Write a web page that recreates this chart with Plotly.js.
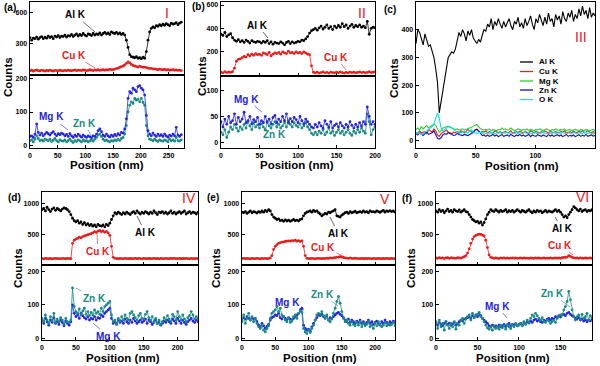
<!DOCTYPE html>
<html><head><meta charset="utf-8">
<script src="https://cdn.plot.ly/plotly-3.0.1.min.js"></script>
<style>html,body{margin:0;padding:0;background:#fff}#chart{width:600px;height:366px}</style>
</head><body><div id="chart"></div>
<script>
// ---------- Panel (a) : x = 0..273 nm, step 3 ----------
const xA_start = 0, xA_step = 3;
const alA = [355,330,350,345,360,340,355,365,345,360,350,370,355,365,345,370,360,375,355,370,365,380,360,375,370,385,365,380,390,370,385,375,395,380,370,390,385,375,395,380,390,385,400,380,395,405,390,400,385,410,400,395,405,390,400,385,395,380,330,260,190,170,165,160,170,155,160,150,165,155,220,330,410,445,460,450,470,465,480,470,485,475,490,480,470,495,485,490,500,480,495,505];
const cuA = [35,40,30,38,42,35,32,40,36,30,38,34,40,35,30,38,36,33,40,35,32,38,35,40,36,34,38,42,35,40,38,36,42,40,35,38,44,40,36,42,40,45,38,42,46,40,44,42,48,45,46,50,55,60,68,75,80,90,105,120,110,95,85,80,75,70,78,72,68,70,65,60,55,58,50,52,48,45,50,46,44,48,42,45,40,43,46,40,42,38,40,36];
const mgA = [28,30,25,35,65,40,32,38,30,35,40,36,32,38,42,35,30,36,33,38,35,30,34,28,36,30,25,32,28,35,30,26,32,28,25,30,27,24,30,28,35,45,50,42,32,28,35,30,26,32,28,34,30,36,32,40,38,50,80,140,160,155,170,165,160,175,178,170,165,150,90,45,35,30,38,32,28,35,30,33,28,35,30,26,32,29,35,30,55,32,28,33];
const znA = [15,18,12,20,30,22,15,18,14,20,18,15,20,13,17,22,16,12,18,15,14,18,12,16,20,14,10,16,13,18,15,12,18,14,16,12,15,18,14,20,25,32,35,28,20,15,18,14,12,16,14,18,15,20,16,22,25,35,60,100,120,130,125,140,135,138,130,140,128,120,60,30,20,18,15,20,16,13,18,15,14,18,16,12,20,15,18,14,25,16,14,18];

// ---------- Panel (b) : x = 0..200 nm, step 2.5 ----------
const xB_start = 0, xB_step = 2.5;
const alB = [350,340,365,330,345,355,320,300,290,305,285,295,280,300,290,275,295,285,280,290,285,275,290,280,295,270,285,265,280,275,270,285,275,260,280,290,270,285,275,280,290,285,300,295,310,330,360,380,390,400,385,405,420,395,410,430,400,415,390,420,405,425,410,440,415,430,400,420,435,410,425,415,430,410,420,405,460,350,400,410,405];
const cuB = [25,20,30,22,28,24,30,60,120,135,140,150,160,155,175,165,180,170,185,175,180,170,190,185,175,195,165,180,190,185,195,180,200,190,185,205,190,195,185,200,190,195,185,200,190,180,175,80,25,20,25,18,22,28,20,24,18,26,22,20,25,20,28,22,18,24,20,26,22,25,20,24,28,22,26,20,24,30,22,25,28];
const mgB = [40,30,45,35,50,38,42,55,35,48,40,45,58,38,42,50,36,44,40,48,35,42,38,50,40,45,36,48,52,38,45,40,50,42,55,38,46,40,48,44,38,50,42,36,45,40,35,30,28,35,30,38,32,28,42,35,30,40,28,33,36,30,38,32,28,35,30,40,33,28,35,30,38,32,40,35,68,50,35,40,35];
const znB = [20,15,25,10,20,30,25,35,28,22,30,25,35,28,40,32,25,38,30,34,28,36,30,25,38,32,28,35,40,30,35,28,32,38,30,42,35,30,38,33,30,36,28,32,38,30,25,18,15,20,15,22,18,25,15,20,28,18,22,14,20,25,18,22,15,20,25,18,14,22,18,25,20,28,22,18,55,40,15,25,30];

// ---------- Panel (c) : x = 0..150 nm, step 1.5 ----------
const xC_start = 0, xC_step = 1.5;
const alC = [350,400,390,370,345,385,360,340,345,320,300,260,210,100,140,180,230,270,300,310,320,315,330,360,390,375,400,385,360,395,380,400,370,360,350,365,355,380,400,395,420,410,440,400,430,415,440,420,405,430,410,425,440,415,400,430,420,445,410,425,405,440,415,430,450,420,400,440,425,455,430,415,445,420,460,430,440,410,455,435,450,420,465,440,430,460,445,470,430,455,440,475,450,485,455,470,440,480,445,460,450];
const cuC = [30,25,35,28,30,32,25,40,35,30,42,35,20,15,25,30,35,38,30,28,25,30,28,32,26,35,30,28,33,40,35,30,28,38,42,35,28,33,30,35,28,32,30,26,35,30,28,32,27,30,33,28,30,35,27,30,32,28,34,30,28,32,30,26,35,30,28,33,30,27,32,29,35,30,27,33,30,28,32,30,28,33,30,35,27,30,32,28,34,30,29,33,30,35,28,31,36,30,28,32,30];
const mgC = [40,45,38,50,42,48,55,45,50,58,60,55,40,30,35,45,48,50,52,48,45,42,40,42,38,40,42,38,40,42,45,48,52,55,58,50,42,40,38,40,38,42,36,40,38,35,40,38,45,40,42,38,40,45,40,36,38,42,40,36,40,38,42,36,40,38,35,40,38,42,38,36,40,42,38,35,40,37,42,38,36,40,38,42,35,38,40,36,38,40,38,35,40,38,36,40,38,35,38,40,36];
const znC = [25,20,28,22,18,25,30,22,25,28,35,20,8,5,10,20,25,22,28,25,22,18,20,25,22,20,18,22,20,18,22,25,30,38,40,35,25,18,20,15,20,15,18,22,16,20,14,18,22,15,18,20,15,22,18,14,20,17,22,16,20,15,18,22,14,20,17,15,21,18,15,20,18,14,22,16,20,15,18,21,16,20,14,18,22,15,19,16,20,14,18,21,15,19,16,22,15,18,20,16,18];
const oC  = [30,25,28,22,25,30,35,40,42,50,60,85,100,80,45,35,40,45,50,50,45,40,35,30,32,28,30,33,30,28,35,40,30,28,25,28,30,26,28,25,28,25,30,27,24,28,26,30,25,28,26,30,24,28,27,25,30,26,28,24,27,30,25,28,26,24,29,27,25,28,26,30,25,27,24,28,26,29,25,27,28,25,30,26,24,28,27,25,29,26,25,28,26,24,30,27,25,28,26,24,27];

// ---------- Panel (d) : x = 0..230 nm, step 2.5 ----------
const xD_start = 0, xD_step = 2.5;
const alD = [900,920,880,940,900,870,910,930,890,920,900,880,910,930,920,900,870,820,760,720,700,720,680,700,660,690,650,670,640,660,630,650,620,660,640,630,650,620,660,640,680,740,800,850,830,860,840,820,850,830,860,840,820,850,870,840,880,850,830,860,840,870,850,830,860,840,880,850,820,860,850,870,840,860,830,850,880,840,860,830,850,870,840,860,880,830,850,870,840,860,850,830,860];
const cuD = [100,95,105,100,98,102,95,100,105,98,100,96,104,100,97,103,100,98,350,400,420,430,450,440,460,470,480,490,500,510,520,540,530,550,560,540,555,530,545,520,480,300,120,105,100,98,102,100,96,104,100,98,103,97,100,105,98,102,100,96,104,100,98,102,97,100,105,99,101,96,103,100,98,104,100,97,102,100,105,98,100,103,97,101,99,104,100,96,102,100,98,103,100];
const mgD = [55,45,60,50,40,55,48,62,45,50,42,55,48,38,52,45,40,50,100,75,65,70,60,75,68,62,58,65,55,60,58,65,55,62,60,70,65,75,80,85,90,60,45,50,42,55,48,52,45,58,50,45,55,48,60,52,45,50,55,48,52,58,45,55,50,42,48,55,45,50,40,45,52,48,55,50,45,58,52,45,60,52,45,55,48,42,50,55,60,52,48,55,50];
const znD = [60,50,70,55,45,65,52,75,48,58,50,62,55,42,60,50,48,55,150,95,80,75,88,70,82,90,72,80,68,78,70,85,75,80,72,90,80,95,100,105,110,70,50,55,45,60,52,65,55,70,60,55,75,80,70,62,55,68,75,60,58,72,80,62,55,65,50,60,45,55,42,50,62,55,68,58,50,72,65,55,80,65,55,70,58,50,62,68,80,70,58,65,60];

// ---------- Panel (e) : x = 0..230 nm, step 2.5 ----------
const xE_start = 0, xE_step = 2.5;
const alE = [860,850,870,840,860,880,850,870,860,845,870,855,880,860,890,870,900,880,820,780,760,740,750,720,730,710,735,715,730,710,725,740,720,730,715,740,750,800,840,860,870,880,860,890,870,880,850,830,800,820,840,830,860,850,870,880,900,800,790,780,810,830,850,860,840,870,850,860,875,850,860,870,855,880,860,870,850,880,865,870,860,880,870,855,875,890,860,880,870,885,870,880,860];
const cuE = [100,105,98,102,100,95,103,100,98,104,100,96,102,100,104,98,100,110,150,250,300,330,350,360,370,375,380,385,390,385,395,390,400,385,395,380,390,300,150,105,100,98,104,100,96,102,105,100,98,104,100,106,102,110,108,112,115,120,125,130,125,118,112,108,105,110,104,100,106,102,100,98,103,97,101,99,104,100,96,102,100,98,103,100,97,101,99,104,100,98,102,100,97];
const mgE = [55,62,58,65,60,55,62,58,60,50,40,35,45,38,30,36,42,55,62,65,70,68,75,62,58,65,60,55,62,58,55,60,65,70,75,85,90,40,30,25,28,22,35,45,55,62,70,68,72,65,60,68,55,62,58,65,70,75,78,72,68,62,55,50,58,48,55,50,45,52,48,55,45,50,42,48,55,45,50,42,48,52,45,40,50,45,55,48,42,50,46,52,48];
const znE = [50,70,45,60,75,55,65,50,58,45,35,30,40,25,20,30,38,60,75,80,85,95,80,90,70,65,55,50,60,48,52,65,70,60,75,82,78,30,20,15,25,18,30,40,55,70,75,72,80,68,62,70,55,50,60,75,90,110,125,105,80,60,50,55,45,40,50,42,38,48,40,50,35,45,38,42,50,35,40,30,45,38,50,42,35,40,48,38,45,40,42,48,38];

// ---------- Panel (f) : x = 0..188 nm, step 2 ----------
const xF_start = 0, xF_step = 2;
const alF = [880,860,900,870,890,850,880,910,870,890,860,900,880,870,895,860,880,900,870,860,820,780,740,720,700,710,680,700,650,690,750,820,860,900,880,870,900,880,860,890,870,880,900,860,885,870,890,860,880,900,880,860,890,875,860,880,900,870,850,880,860,890,870,880,850,870,890,860,880,870,860,880,900,870,890,860,820,780,800,770,820,860,900,950,930,900,880,910,870,890,900,870,890,880,900];
const cuF = [110,105,115,108,112,100,110,115,105,110,112,108,105,115,110,108,120,130,150,190,260,350,420,460,480,490,500,495,485,470,400,280,160,120,110,105,110,108,100,110,108,112,105,110,104,108,112,106,110,105,108,112,104,110,106,108,103,110,107,105,110,106,112,104,108,110,105,109,106,111,104,108,112,106,110,105,115,120,118,125,150,135,120,112,108,110,105,112,108,104,110,106,108,112,105];
const mgF = [45,40,48,42,38,45,50,42,46,40,44,48,40,45,50,55,52,58,60,62,65,60,68,62,70,65,72,68,60,55,50,45,38,35,40,36,38,34,40,35,38,42,36,40,45,38,42,40,44,38,42,45,40,48,44,50,46,52,48,55,58,52,55,50,48,55,52,58,60,55,60,58,65,62,68,64,70,72,68,75,78,72,68,65,60,58,62,55,58,52,56,50,55,52,58];
const znF = [50,30,55,35,45,25,50,40,30,45,35,50,28,45,40,55,60,45,58,65,70,55,75,62,68,72,78,65,60,50,40,32,28,35,25,38,30,35,28,40,32,38,28,42,35,30,40,35,45,38,40,45,38,50,42,55,48,60,70,65,75,68,60,55,62,50,48,55,52,45,50,55,48,60,65,70,70,85,95,110,140,115,85,65,55,65,70,58,72,60,65,75,55,68,62];

// ---------- labels ----------
const panelLabels = ['(a)','(b)','(c)','(d)','(e)','(f)'];
const romanLabels = ['I','II','III','IV','V','VI'];
const elemNames = ['Al K','Cu K','Mg K','Zn K','O K'];

// ---------- rendering ----------
function grid(start, step, n){ const a=[]; for(let i=0;i<n;i++) a.push(+(start+i*step).toFixed(3)); return a; }
const W=600, H=366;
const FONT='"Liberation Sans", Arial, sans-serif';
const COL = {al:'#000000', cu:'#ea1c1c', mg:'#2323e6', zn:'#1a8a82', cMg:'#33cc33', cZn:'#1010c8', cO:'#00e8f0'};

const traces=[];
function mk(x,y,xa,ya,color,name){
  traces.push({x,y,xaxis:xa,yaxis:ya,type:'scatter',mode:'lines+markers',name,showlegend:false,
    line:{color,width:0.8},marker:{color,size:2.8,symbol:'circle'},hoverinfo:'skip'});
}
function ln(x,y,xa,ya,color,name){
  traces.push({x,y,xaxis:xa,yaxis:ya,type:'scatter',mode:'lines',name,showlegend:false,
    line:{color,width:1.1},hoverinfo:'skip'});
}
const xA=grid(xA_start,xA_step,alA.length), xB=grid(xB_start,xB_step,alB.length), xC=grid(xC_start,xC_step,alC.length);
const xD=grid(xD_start,xD_step,alD.length), xE=grid(xE_start,xE_step,alE.length), xF=grid(xF_start,xF_step,alF.length);

mk(xA,alA,'x','y',COL.al,'Al K'); mk(xA,cuA,'x','y',COL.cu,'Cu K');
mk(xA,znA,'x2','y2',COL.zn,'Zn K'); mk(xA,mgA,'x2','y2',COL.mg,'Mg K');
mk(xB,alB,'x3','y3',COL.al,'Al K'); mk(xB,cuB,'x3','y3',COL.cu,'Cu K');
mk(xB,znB,'x4','y4',COL.zn,'Zn K'); mk(xB,mgB,'x4','y4',COL.mg,'Mg K');
ln(xC,alC,'x5','y5',COL.al,'Al K'); ln(xC,cuC,'x5','y5',COL.cu,'Cu K'); ln(xC,mgC,'x5','y5',COL.cMg,'Mg K');
ln(xC,znC,'x5','y5',COL.cZn,'Zn K'); ln(xC,oC,'x5','y5',COL.cO,'O K');
mk(xD,alD,'x6','y6',COL.al,'Al K'); mk(xD,cuD,'x6','y6',COL.cu,'Cu K');
mk(xD,mgD,'x7','y7',COL.mg,'Mg K'); mk(xD,znD,'x7','y7',COL.zn,'Zn K');
mk(xE,alE,'x8','y8',COL.al,'Al K'); mk(xE,cuE,'x8','y8',COL.cu,'Cu K');
mk(xE,mgE,'x9','y9',COL.mg,'Mg K'); mk(xE,znE,'x9','y9',COL.zn,'Zn K');
mk(xF,alF,'x10','y10',COL.al,'Al K'); mk(xF,cuF,'x10','y10',COL.cu,'Cu K');
mk(xF,mgF,'x11','y11',COL.mg,'Mg K'); mk(xF,znF,'x11','y11',COL.zn,'Zn K');

const tickfont={family:FONT,size:7,weight:'bold',color:'#000'};
function xax(x0,x1,range,tickvals,anchor,labels){
  return {domain:[x0/W,x1/W],range,anchor,tickvals,showticklabels:labels,ticks:'inside',ticklen:3,tickwidth:1,tickcolor:'#000',
    showline:true,mirror:true,linecolor:'#000',linewidth:1.4,showgrid:false,zeroline:false,tickfont,fixedrange:true};
}
function yax(y0,y1,range,tickvals,anchor){
  return {domain:[1-y1/H,1-y0/H],range,anchor,tickvals,ticks:'inside',ticklen:3,tickwidth:1,tickcolor:'#000',
    showline:true,mirror:true,linecolor:'#000',linewidth:1.4,showgrid:false,zeroline:false,tickfont,fixedrange:true};
}
const t50=(m)=>{const a=[];for(let v=0;v<=m;v+=50)a.push(v);return a;};
const layout={width:W,height:H,margin:{l:0,r:0,t:0,b:0},paper_bgcolor:'#fff',plot_bgcolor:'#fff',showlegend:false,
  font:{family:FONT,color:'#000'},
  xaxis:xax(30,184,[0,278],t50(250),'y',false),   yaxis:yax(2,75,[-7,700],[300,600],'x'),
  xaxis2:xax(30,184,[0,278],t50(250),'y2',true),  yaxis2:yax(75,148,[-6,209],[0,100,200],'x2'),
  xaxis3:xax(221,375,[0,200],t50(200),'y3',false),yaxis3:yax(2,76,[-7,626],[200,400,600],'x3'),
  xaxis4:xax(221,375,[0,200],t50(200),'y4',true), yaxis4:yax(76,148,[-10,127],[0,50,100],'x4'),
  xaxis5:xax(416,595,[0,150],t50(150),'y5',true), yaxis5:yax(2,148,[-27,500],[0,100,200,300,400,500],'x5'),
  xaxis6:xax(42,198,[0,230],t50(200),'y6',false), yaxis6:yax(192,265,[-5,1190],[500,1000],'x6'),
  xaxis7:xax(42,198,[0,230],t50(200),'y7',true),  yaxis7:yax(265,340,[-4,218],[0,100,200],'x7'),
  xaxis8:xax(242,395,[0,230],t50(200),'y8',false),yaxis8:yax(192,265,[-5,1190],[500,1000],'x8'),
  xaxis9:xax(242,395,[0,230],t50(200),'y9',true), yaxis9:yax(265,340,[-4,218],[0,100,200],'x9'),
  xaxis10:xax(436,592,[0,188],t50(150),'y10',false),yaxis10:yax(192,265,[-5,1190],[500,1000],'x10'),
  xaxis11:xax(436,592,[0,188],t50(150),'y11',true), yaxis11:yax(265,340,[-4,218],[0,100,200],'x11'),
  annotations:[], shapes:[]
};
const A=layout.annotations;
const P=(x,y)=>({x:x/W,y:1-y/H});
function txt(s,x,y,size,color,bold,angle,xanchor){
  const p=P(x,y);
  A.push({text:s,x:p.x,y:p.y,xref:'paper',yref:'paper',showarrow:false,xanchor:xanchor||'center',yanchor:'middle',
    textangle:angle||0,font:{family:FONT,size,color,weight:bold?'bold':'normal'}});
}
function arrowLbl(s,color,tx,ty,hx,hy){
  const p=P(hx,hy);
  A.push({text:s,x:p.x,y:p.y,xref:'paper',yref:'paper',showarrow:true,arrowhead:0,arrowwidth:0.6,arrowcolor:color,
    ax:tx-hx,ay:ty-hy,standoff:0,startstandoff:0,font:{family:FONT,size:10,color,weight:'bold'}});
}
// panel letters
[[10,7],[198,6],[390,9],[14,197],[213,197],[407,198]].forEach((q,i)=>txt(panelLabels[i],q[0],q[1],10,'#000',true));
// roman numerals
[[167,13],[362,13],[581,37],[189,198],[385,199],[582,197]].forEach((q,i)=>txt(romanLabels[i],q[0],q[1],14,'#e8191a',false));
// axis titles
[[8,77],[202,76],[394,78],[18,268],[216,268],[411,268]].forEach(q=>txt('Counts',q[0],q[1],11.5,'#000',true,-90));
[[107,165],[297,165],[522,166],[123,358],[320,358],[513,358]].forEach(q=>txt('Position (nm)',q[0],q[1],11.5,'#000',true));
// element labels with leader lines
arrowLbl('Al K',COL.al,75,15,95,32); arrowLbl('Cu K',COL.cu,74,55,95,68);
arrowLbl('Mg K',COL.mg,51,117,68,130); arrowLbl('Zn K',COL.zn,84,123,92,137);
arrowLbl('Al K',COL.al,257,25,268,38); arrowLbl('Cu K',COL.cu,336,57,346,70);
arrowLbl('Mg K',COL.mg,246,99,262,112); arrowLbl('Zn K',COL.zn,274,134,270,121);
arrowLbl('Al K',COL.al,145,232,137,216); arrowLbl('Cu K',COL.cu,98,251,97,233);
arrowLbl('Zn K',COL.zn,94,298,76,288); arrowLbl('Mg K',COL.mg,108,336,93,323);
arrowLbl('Al K',COL.al,338,233,330,217); arrowLbl('Cu K',COL.cu,323,247,343,256);
arrowLbl('Mg K',COL.mg,287,302,304,310); arrowLbl('Zn K',COL.zn,322,294,338,306);
arrowLbl('Al K',COL.al,562,228,555,217); arrowLbl('Cu K',COL.cu,560,245,573,255);
arrowLbl('Mg K',COL.mg,497,306,507,318); arrowLbl('Zn K',COL.zn,552,293,570,307);
// legend for (c)
const legCols=[COL.al,COL.cu,COL.cMg,COL.cZn,COL.cO];
[62,71.5,81,90,99.5].forEach((yy,i)=>{
  const a=P(520,yy), b=P(533,yy);
  layout.shapes.push({type:'line',xref:'paper',yref:'paper',x0:a.x,x1:b.x,y0:a.y,y1:a.y,line:{color:legCols[i],width:1.3}});
  txt(elemNames[i],537,yy,8,'#000',true,0,'left');
});
Plotly.newPlot('chart',traces,layout,{staticPlot:true,displayModeBar:false});
</script>
</body></html>
